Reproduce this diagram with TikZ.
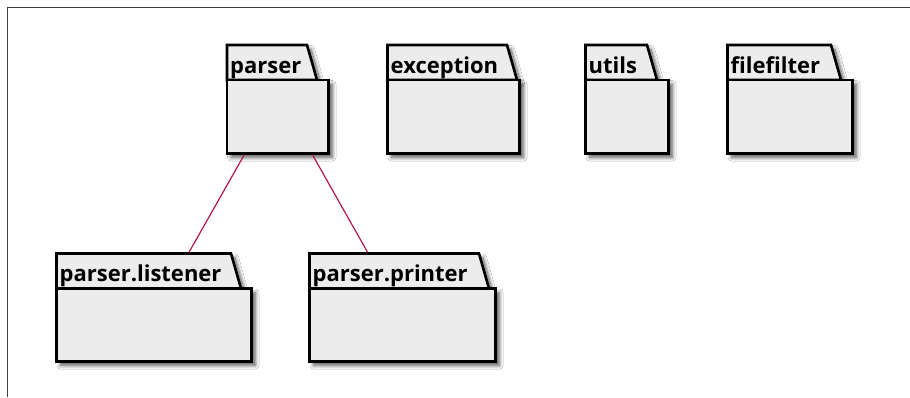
\documentclass[tikz,border=0pt]{standalone}
\usepackage{fontspec}
\setmainfont{Open Sans}
\usetikzlibrary{shadows.blur,calc}

\definecolor{pkgfill}{RGB}{236,236,236}
\definecolor{deplink}{RGB}{178,24,78}
\definecolor{framegray}{RGB}{64,64,64}

\tikzset{
  pkgshadow/.style={blur shadow={shadow xshift=4pt,shadow yshift=-4pt,
      shadow blur radius=3.5pt,shadow blur steps=10,shadow opacity=65}},
  pkgline/.style={draw=black,line width=2.6pt,line join=miter,fill=pkgfill},
  pkgbody/.style={pkgline,pkgshadow,rectangle,inner sep=0pt,outer sep=0pt},
  pkgtab/.style={pkgline,pkgshadow},
  pkglabel/.style={inner sep=0pt,anchor=base west,
      font=\bfseries\fontsize{22}{24}\selectfont},
  dep/.style={draw=deplink,line width=1.2pt,shorten <=1.3pt,shorten >=1.3pt},
  frameline/.style={draw=framegray,line width=1pt},
}

% #1 name, #2 left, #3 top, #4 right, #5 bottom, #6 tab top-right x, #7 label
\newcommand\pkgdraw[7]{%
  \pgfmathsetmacro\pkgw{#4-#2}%
  \pgfmathsetmacro\pkgh{#5-#3-35}%
  \path[pkgtab] (#2,#3) -- (#6,#3) -- ({#6+10},{#3+35}) -- (#2,{#3+35}) -- cycle;
  \coordinate (#1-tab) at (#2,#3);
  \node[pkgbody,minimum width=\pkgw pt,minimum height=\pkgh pt]
    (#1) at ({(#2+#4)/2},{(#3+35+#5)/2}) {};
  \node[pkglabel] (#1-label) at ({#2+3},{#3+28}) {#7};
}

\begin{document}
\begin{tikzpicture}[x=1pt,y=-1pt]
  \useasboundingbox (0,0) rectangle (910,397);
  \fill[white] (0,0) rectangle (910,397);
  \draw[frameline] (7,397) -- (7,7) -- (910,7);

  % top row
  \pkgdraw{parser}{227}{45}{328.5}{153.5}{307}{parser}
  \pkgdraw{exception}{387.5}{45}{519.5}{153.5}{507}{exception}
  \pkgdraw{utils}{585.5}{45}{668.5}{153.5}{647}{utils}
  \pkgdraw{filefilter}{727.5}{45}{852.5}{153.5}{831}{filefilter}

  % bottom row
  \pkgdraw{listener}{56.5}{253.5}{251.5}{361.5}{231}{parser.listener}
  \pkgdraw{printer}{309.5}{253.5}{495.5}{361.5}{479}{parser.printer}

  % dependencies
  \draw[dep] ([xshift=-32.75pt]parser.south) -- ($(listener-tab)+(131.8,0)$);
  \draw[dep] ([xshift=34pt]parser.south) -- ($(printer-tab)+(58.8,0)$);
\end{tikzpicture}
\end{document}
